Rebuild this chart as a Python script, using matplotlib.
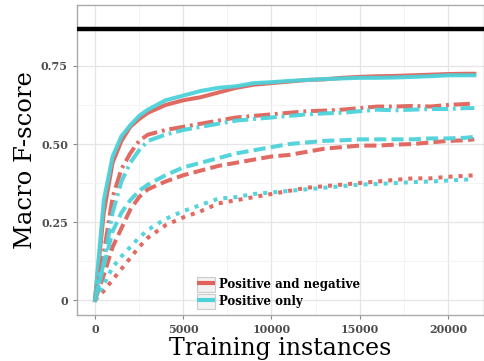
import matplotlib
matplotlib.use("Agg")
import matplotlib.pyplot as plt
from matplotlib.patches import Rectangle
from matplotlib.lines import Line2D
from matplotlib.ticker import MultipleLocator

x = [0, 500, 1000, 1500, 2000, 2500, 3000, 4000, 5000, 6000, 7000, 8000, 9000,
     10000, 11000, 12000, 13000, 14000, 15000, 16000, 17000, 18000, 19000,
     20000, 21000, 21500]

pn_solid = [0, 0.28, 0.44, 0.51, 0.555, 0.58, 0.60, 0.625, 0.64, 0.65, 0.665, 0.68, 0.69,
            0.695, 0.70, 0.705, 0.707, 0.712, 0.715, 0.717, 0.718, 0.72, 0.722, 0.724, 0.725, 0.725]
p_solid = [0, 0.32, 0.46, 0.525, 0.56, 0.59, 0.61, 0.64, 0.655, 0.67, 0.68, 0.685, 0.695,
           0.698, 0.702, 0.705, 0.708, 0.71, 0.712, 0.712, 0.713, 0.715, 0.717, 0.72, 0.72, 0.72]
pn_dashdot = [0, 0.15, 0.33, 0.42, 0.47, 0.51, 0.53, 0.545, 0.555, 0.565, 0.575, 0.585, 0.59,
              0.595, 0.60, 0.605, 0.607, 0.61, 0.615, 0.62, 0.62, 0.622, 0.62, 0.625, 0.628, 0.63]
p_dashdot = [0, 0.12, 0.28, 0.38, 0.44, 0.48, 0.51, 0.53, 0.545, 0.555, 0.565, 0.575, 0.58,
             0.585, 0.59, 0.595, 0.598, 0.60, 0.605, 0.61, 0.608, 0.61, 0.612, 0.612, 0.615, 0.615]
pn_dashed = [0, 0.08, 0.17, 0.23, 0.29, 0.33, 0.355, 0.38, 0.40, 0.415, 0.43, 0.44, 0.45,
             0.46, 0.465, 0.475, 0.485, 0.49, 0.495, 0.495, 0.498, 0.50, 0.505, 0.51, 0.512, 0.515]
p_dashed = [0, 0.11, 0.22, 0.28, 0.32, 0.35, 0.37, 0.40, 0.425, 0.44, 0.455, 0.47, 0.48,
            0.49, 0.50, 0.505, 0.51, 0.512, 0.515, 0.515, 0.515, 0.515, 0.518, 0.518, 0.52, 0.523]
pn_dotted = [0, 0.03, 0.065, 0.10, 0.135, 0.17, 0.20, 0.24, 0.265, 0.285, 0.31, 0.32, 0.33,
             0.34, 0.35, 0.36, 0.365, 0.37, 0.375, 0.38, 0.385, 0.39, 0.39, 0.395, 0.398, 0.40]
p_dotted = [0, 0.05, 0.105, 0.14, 0.17, 0.20, 0.225, 0.26, 0.285, 0.305, 0.325, 0.33, 0.34,
            0.345, 0.35, 0.355, 0.36, 0.365, 0.37, 0.372, 0.375, 0.378, 0.38, 0.383, 0.386, 0.388]

baseline = 0.869

legend_labels = ["Positive and negative", "Positive only"]
RED = "#E0625A"
CYAN = "#4DD2DA"

fig = plt.figure(figsize=(4.84, 3.61), dpi=100)
ax = fig.add_axes([0.159, 0.127, 0.841, 0.859])

LW = 2.9
styles = [
    (pn_solid, p_solid, "-"),
    (pn_dashdot, p_dashdot, (0, (4, 1.2, 0.7, 1.2))),
    (pn_dashed, p_dashed, (0, (3, 1.3))),
    (pn_dotted, p_dotted, (0, (1.0, 1.5))),
]
for pn, p, ls in styles:
    ax.plot(x, pn, color=RED, lw=LW, ls=ls, alpha=0.95, zorder=3)
    ax.plot(x, p, color=CYAN, lw=LW, ls=ls, alpha=0.95, zorder=3)

ax.axhline(baseline, color="black", lw=3.2, zorder=4)

ax.set_xlim(-1020, 22050)
ax.set_ylim(-0.048, 0.945)
ax.xaxis.set_major_locator(MultipleLocator(5000))
ax.xaxis.set_minor_locator(MultipleLocator(2500))
ax.yaxis.set_major_locator(MultipleLocator(0.25))
ax.yaxis.set_minor_locator(MultipleLocator(0.125))
ax.set_yticks([0, 0.25, 0.5, 0.75])
ax.set_yticklabels(["0", "0.25", "0.50", "0.75"])
ax.grid(which="major", color="#E5E5E5", lw=0.9, zorder=0)
ax.grid(which="minor", color="#F3F3F3", lw=0.6, zorder=0)
ax.tick_params(which="minor", length=0)
ax.tick_params(which="major", length=3, color="#888888", width=0.8)

for lab in ax.get_xticklabels() + ax.get_yticklabels():
    lab.set_family("DejaVu Serif")
    lab.set_weight("bold")
    lab.set_color("#4D4D4D")
    lab.set_fontsize(8)

for s in ["left", "bottom", "top", "right"]:
    ax.spines[s].set_color("#AAAAAA")
    ax.spines[s].set_linewidth(1.0)

ax.set_xlabel("Training instances", family="DejaVu Serif", fontsize=17, labelpad=1)
ax.set_ylabel("Macro F-score", family="DejaVu Serif", fontsize=17.5, labelpad=3)

handles = []
for c in [RED, CYAN]:
    r = Rectangle((0, 0), 1, 1, facecolor="#F2F2F2", edgecolor="#CCCCCC", lw=0.8)
    l = Line2D([], [], color=c, lw=3, solid_capstyle="butt")
    handles.append((r, l))
leg = ax.legend(handles, legend_labels, loc="lower left", bbox_to_anchor=(0.268, -0.014),
                frameon=False, prop={"family": "DejaVu Serif", "weight": "bold", "size": 8.5},
                handlelength=1.55, handleheight=1.55, handletextpad=0.3, labelspacing=0.2)

fig.savefig("out.png", dpi=100)
